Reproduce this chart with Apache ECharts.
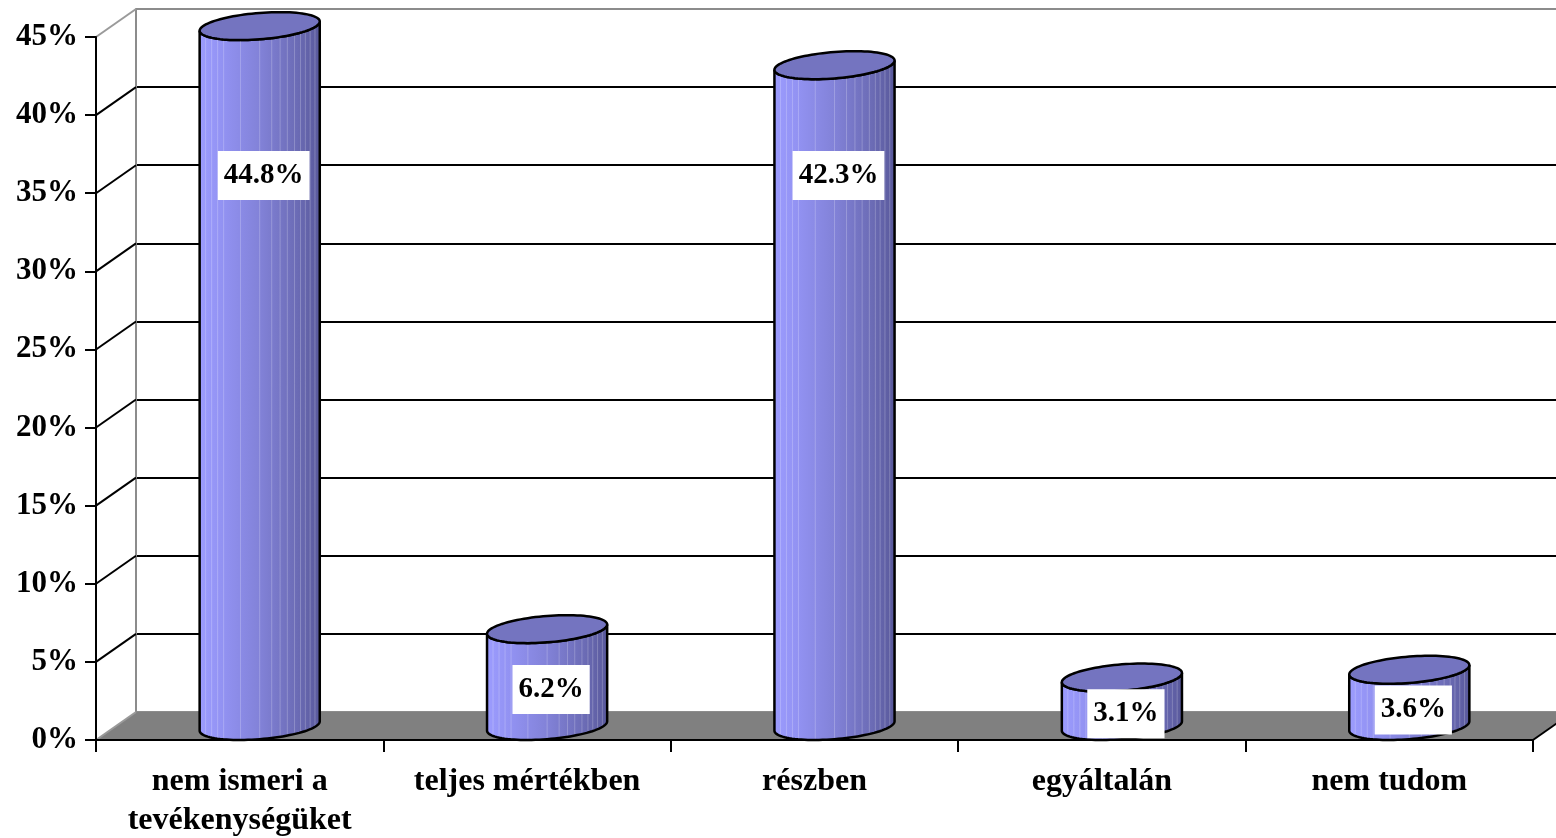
<!DOCTYPE html>
<html><head><meta charset="utf-8">
<script src="https://cdn.jsdelivr.net/npm/echarts@6/dist/echarts.min.js"></script>
<style>html,body{margin:0;padding:0;background:#fff}#c{width:1556px;height:838px}</style>
</head><body><div id="c"></div>
<script>
const categories = ['nem ismeri a\ntevékenységüket', 'teljes mértékben', 'részben', 'egyáltalán', 'nem tudom'];
const values = [44.8, 6.2, 42.3, 3.1, 3.6];
const yTicks = [0, 5, 10, 15, 20, 25, 30, 35, 40, 45];
const yMin = 0, yMax = 45, yStep = 5;

const DEPTH_X = 40, DEPTH_Y = 28;
const FONT = '"Liberation Serif","Times New Roman",serif';

const chart = echarts.init(document.getElementById('c'), null, {renderer: 'canvas'});

function renderDecor(params, api) {
  const cs = params.coordSys;
  const x0 = cs.x, xr = cs.x + cs.width, yb = cs.y + cs.height;
  const children = [];
  children.push({type: 'polygon', shape: {points: [[x0, yb], [x0 + DEPTH_X, yb - DEPTH_Y], [xr + DEPTH_X, yb - DEPTH_Y], [xr, yb]]},
    style: {fill: '#808080'}});
  yTicks.forEach(v => {
    const y = api.coord([0, v])[1];
    const gray = (v === yMin || v === yMax);
    children.push({type: 'line', shape: {x1: x0, y1: y, x2: x0 + DEPTH_X, y2: y - DEPTH_Y},
      style: {stroke: gray ? '#9a9a9a' : '#000', lineWidth: 2}});
  });
  children.push({type: 'line', shape: {x1: xr, y1: yb, x2: xr + DEPTH_X, y2: yb - DEPTH_Y}, style: {stroke: '#000', lineWidth: 2}});
  return {type: 'group', children};
}

function renderCyl(params, api) {
  const i = api.value(0), v = api.value(1);
  const base = api.coord([i, 0]);
  const top = api.coord([i, v]);
  const DX = DEPTH_X / 2, DY = DEPTH_Y / 2;
  const cx = base[0] + DX;
  const cyB = base[1] - DY, cyT = top[1] - DY;
  const bw = api.size([1, 0])[0];
  const R = bw * 0.209;
  const A = Math.sqrt(R * R - DX * DX);
  const tR = Math.atan2(DX, A);
  const pt = (cy, t) => [cx + A * Math.cos(t) + DX * Math.sin(t), cy - DY * Math.sin(t)];
  const N = 48;
  const front = [];
  for (let k = 0; k <= N; k++) front.push(tR + Math.PI + Math.PI * k / N);
  const body = [];
  front.forEach(t => body.push(pt(cyB, t)));
  for (let k = N; k >= 0; k--) body.push(pt(cyT, front[k]));
  const topPts = [];
  for (let k = 0; k < 2 * N; k++) topPts.push(pt(cyT, tR + Math.PI * k / N));
  const children = [];
  children.push({type: 'polygon', shape: {points: body}, style: {
    fill: new echarts.graphic.LinearGradient(0, 0, 1, 0, [
      {offset: 0, color: '#9c9cff'}, {offset: 0.2, color: '#9292f2'}, {offset: 0.5, color: '#8282d8'},
      {offset: 0.8, color: '#6c6cb6'}, {offset: 1, color: '#58589a'}]),
    stroke: '#000', lineWidth: 2.5}});
  const fr = [0.05, 0.1, 0.15, 0.2, 0.34, 0.5, 0.6, 0.67, 0.73, 0.79, 0.84, 0.88, 0.92, 0.96];
  fr.forEach(f => {
    const t = tR + 2 * Math.PI - Math.acos(2 * f - 1);
    const p1 = pt(cyT, t), p2 = pt(cyB, t);
    children.push({type: 'line', shape: {x1: p1[0], y1: p1[1], x2: p2[0], y2: p2[1] - 1.5}, style: {stroke: 'rgba(255,255,255,0.22)', lineWidth: 1}});
  });
  children.push({type: 'polygon', shape: {points: topPts}, style: {fill: '#7474c0', stroke: '#000', lineWidth: 2.5}});
  const lv = v > 20 ? 36 : v / 2;
  const lp = api.coord([i, lv]);
  children.push({type: 'text', x: cx + 4, y: lp[1] - 2, z2: 10, style: {
    text: v.toFixed(1) + '%', font: 'bold 29px ' + FONT, fill: '#000',
    align: 'center', verticalAlign: 'middle', backgroundColor: '#fff', padding: [11, 6, 9, 6]}});
  return {type: 'group', children};
}

const splitColors = yTicks.map(v => (v === yMin || v === yMax) ? '#8c8c8c' : '#000');

chart.setOption({
  animation: false,
  backgroundColor: '#fff',
  grid: [
    {left: 96, right: 23, top: 37, bottom: 98, outerBoundsMode: 'none', containLabel: false},
    {left: 136, right: 0, top: 9, bottom: 126, outerBoundsMode: 'none', containLabel: false}
  ],
  xAxis: [
    {type: 'category', data: categories, gridIndex: 0, z: 3,
      axisLine: {show: true, lineStyle: {color: '#000', width: 2}},
      axisTick: {show: true, length: 12, alignWithLabel: false, lineStyle: {color: '#000', width: 2}},
      axisLabel: {color: '#000', fontSize: 32, fontWeight: 'bold', fontFamily: FONT, margin: 22, lineHeight: 39, interval: 0, hideOverlap: false},
      splitLine: {show: false}},
    {type: 'value', gridIndex: 1, show: false, min: 0, max: 1}
  ],
  yAxis: [
    {type: 'value', gridIndex: 0, min: yMin, max: yMax, interval: yStep, z: 3,
      axisLine: {show: true, lineStyle: {color: '#000', width: 2}},
      axisTick: {show: true, length: 11, lineStyle: {color: '#000', width: 2}},
      axisLabel: {formatter: '{value}%', color: '#000', fontSize: 31, fontWeight: 'bold', fontFamily: FONT, margin: 18},
      splitLine: {show: false}},
    {type: 'value', gridIndex: 1, min: yMin, max: yMax, interval: yStep, z: 0,
      axisLine: {show: true, lineStyle: {color: '#8c8c8c', width: 2}},
      axisTick: {show: false}, axisLabel: {show: false},
      splitLine: {show: true, lineStyle: {color: splitColors, width: 2}}}
  ],
  series: [
    {type: 'custom', xAxisIndex: 0, yAxisIndex: 0, z: 1, silent: true,
      data: [[0, 0]], renderItem: renderDecor},
    {type: 'custom', xAxisIndex: 0, yAxisIndex: 0, z: 5, silent: true,
      data: values.map((v, i) => [i, v]), encode: {x: 0, y: 1}, renderItem: renderCyl}
  ]
});
</script>
</body></html>
